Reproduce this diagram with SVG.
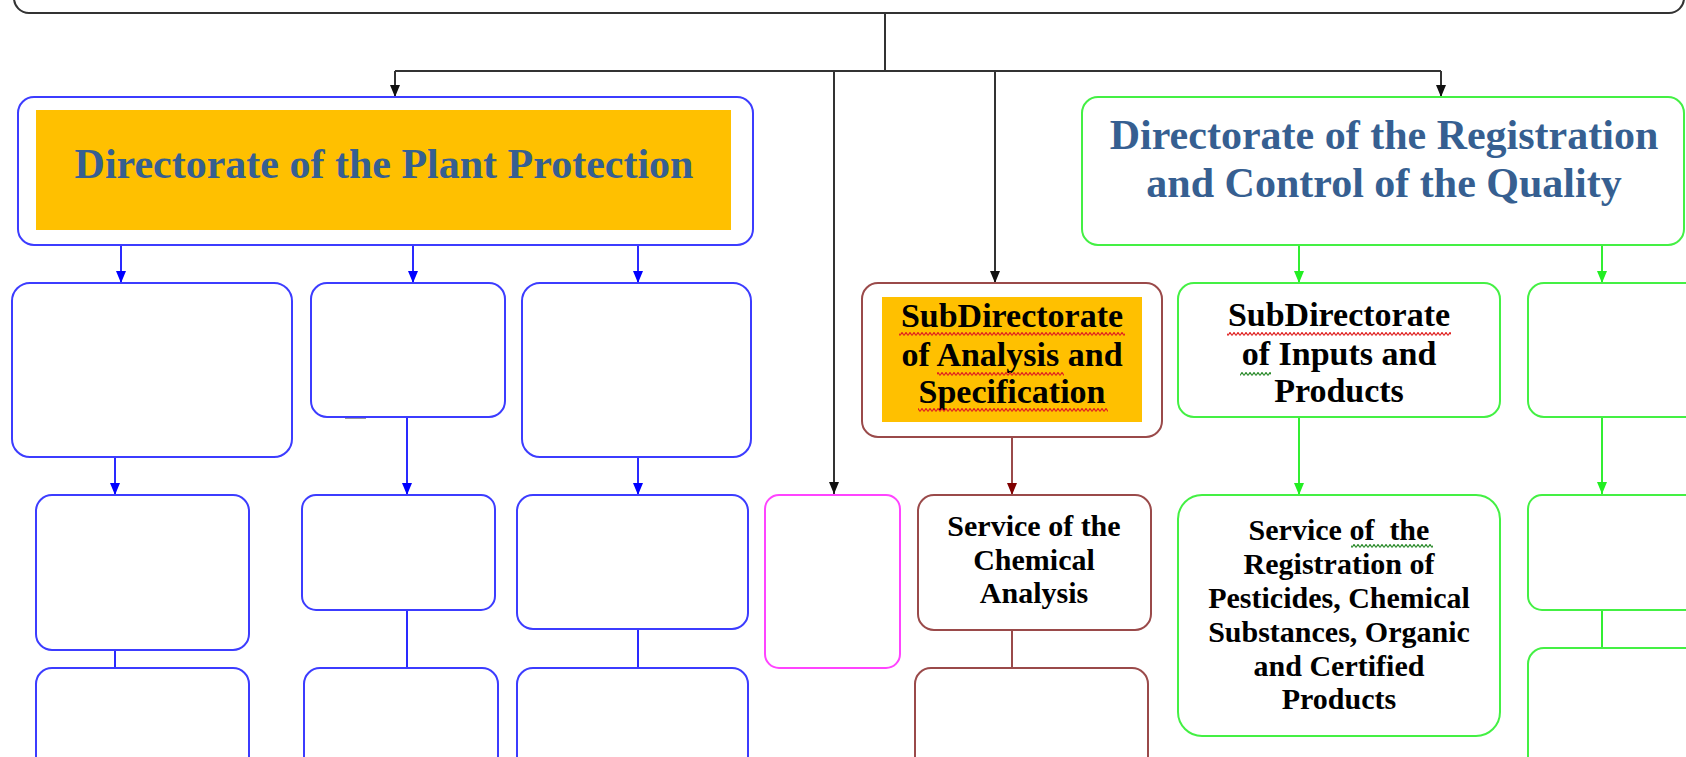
<svg xmlns="http://www.w3.org/2000/svg" width="1686" height="757" viewBox="0 0 1686 757">
<defs>
<style>
.bx{fill:#fff;stroke-width:2}
.blue{stroke:#3c3cff}
.green{stroke:#44f044}
.brown{stroke:#9a4a4a}
.pink{stroke:#ff44ff}
.blk{stroke:#333;stroke-width:2;fill:none}
.lb{stroke:#2a2aff;stroke-width:2;fill:none}
.lg{stroke:#33ee33;stroke-width:2;fill:none}
.lr{stroke:#9a4a4a;stroke-width:2;fill:none}
.title{font-family:"Liberation Serif","Times New Roman",serif;font-weight:bold;font-size:42px;fill:#365F91;text-anchor:middle}
.t34{font-family:"Liberation Serif","Times New Roman",serif;font-weight:bold;font-size:34px;fill:#000;text-anchor:middle}
.t30{font-family:"Liberation Serif","Times New Roman",serif;font-weight:bold;font-size:30px;fill:#000;text-anchor:middle}
</style>
<marker id="aK" viewBox="0 0 12 10" refX="12" refY="5" markerWidth="12" markerHeight="10" markerUnits="userSpaceOnUse" orient="auto"><path d="M0,0 L12,5 L0,10 z" fill="#111"/></marker>
<marker id="aB" viewBox="0 0 12 10" refX="12" refY="5" markerWidth="12" markerHeight="10" markerUnits="userSpaceOnUse" orient="auto"><path d="M0,0 L12,5 L0,10 z" fill="#0000ff"/></marker>
<marker id="aG" viewBox="0 0 12 10" refX="12" refY="5" markerWidth="12" markerHeight="10" markerUnits="userSpaceOnUse" orient="auto"><path d="M0,0 L12,5 L0,10 z" fill="#22ee22"/></marker>
<marker id="aR" viewBox="0 0 12 10" refX="12" refY="5" markerWidth="12" markerHeight="10" markerUnits="userSpaceOnUse" orient="auto"><path d="M0,0 L12,5 L0,10 z" fill="#800000"/></marker>
<pattern id="wR" width="4" height="4" patternUnits="userSpaceOnUse"><path d="M0,3.5 L2,0.5 L4,3.5" fill="none" stroke="#e02020" stroke-width="1.2"/></pattern>
<pattern id="wG" width="4" height="4" patternUnits="userSpaceOnUse"><path d="M0,3.5 L2,0.5 L4,3.5" fill="none" stroke="#2a8a2a" stroke-width="1.2"/></pattern>
</defs>
<rect width="1686" height="757" fill="#fff"/>

<g id="top-node"><rect class="bx" x="14" y="-30" width="1670" height="43" rx="15" stroke="#333"/></g>

<g id="connectors">
<path class="blk" d="M885,13 V71"/>
<path class="blk" d="M395,71 H1441"/>
<path class="blk" d="M395,71 V97" marker-end="url(#aK)"/>
<path class="blk" d="M1441,71 V97" marker-end="url(#aK)"/>
<path class="blk" d="M834,71 V494" marker-end="url(#aK)"/>
<path class="blk" d="M995,71 V283" marker-end="url(#aK)"/>
<path class="lb" d="M121,245 V283" marker-end="url(#aB)"/>
<path class="lb" d="M413,245 V283" marker-end="url(#aB)"/>
<path class="lb" d="M638,245 V283" marker-end="url(#aB)"/>
<path class="lb" d="M115,457 V495" marker-end="url(#aB)"/>
<path class="lb" d="M407,417 V495" marker-end="url(#aB)"/>
<path class="lb" d="M638,457 V495" marker-end="url(#aB)"/>
<path class="lb" d="M115,650 V668"/>
<path class="lb" d="M407,610 V668"/>
<path class="lb" d="M638,629 V668"/>
<path class="lr" d="M1012,437 V495" marker-end="url(#aR)"/>
<path class="lr" d="M1012,630 V668"/>
<path class="lg" d="M1299,245 V283" marker-end="url(#aG)"/>
<path class="lg" d="M1602,245 V283" marker-end="url(#aG)"/>
<path class="lg" d="M1299,417 V495" marker-end="url(#aG)"/>
<path class="lg" d="M1602,417 V494" marker-end="url(#aG)"/>
<path class="lg" d="M1602,610 V648"/>
<path d="M345,417 H366" stroke="#333" stroke-width="3"/>
</g>

<g id="dir-plant-protection">
<rect class="bx blue" x="18" y="97" width="735" height="148" rx="16"/>
<rect x="36" y="110" width="695" height="120" fill="#FFC000"/>
<text class="title" x="384" y="178">Directorate of the Plant Protection</text>
</g>

<g id="dir-registration">
<rect class="bx green" x="1082" y="97" width="602" height="148" rx="16"/>
<text class="title" x="1384" y="149">Directorate of the Registration</text>
<text class="title" x="1384" y="197">and Control of the Quality</text>
</g>

<g id="blue-a"><rect class="bx blue" x="12" y="283" width="280" height="174" rx="18"/></g>
<g id="blue-b"><rect class="bx blue" x="311" y="283" width="194" height="134" rx="16"/></g>
<g id="blue-c"><rect class="bx blue" x="522" y="283" width="229" height="174" rx="18"/></g>
<g id="blue-d"><rect class="bx blue" x="36" y="495" width="213" height="155" rx="16"/></g>
<g id="blue-e"><rect class="bx blue" x="302" y="495" width="193" height="115" rx="14"/></g>
<g id="blue-f"><rect class="bx blue" x="517" y="495" width="231" height="134" rx="16"/></g>
<g id="blue-g"><rect class="bx blue" x="36" y="668" width="213" height="120" rx="16"/></g>
<g id="blue-h"><rect class="bx blue" x="304" y="668" width="194" height="120" rx="16"/></g>
<g id="blue-i"><rect class="bx blue" x="517" y="668" width="231" height="120" rx="16"/></g>

<g id="pink-box"><rect class="bx pink" x="765" y="495" width="135" height="173" rx="14"/></g>

<g id="subdir-analysis">
<rect class="bx brown" x="862" y="283" width="300" height="154" rx="16"/>
<rect x="882" y="297" width="260" height="125" fill="#FFC000"/>
<text class="t34" x="1012" y="327">SubDirectorate</text>
<text class="t34" x="1012" y="366">of Analysis and</text>
<text class="t34" x="1012" y="403">Specification</text>
<rect x="899" y="332" width="226" height="4" fill="url(#wR)"/>
<rect x="937" y="372" width="127" height="4" fill="url(#wR)"/>
<rect x="918" y="408" width="190" height="4" fill="url(#wR)"/>
</g>

<g id="service-chemical">
<rect class="bx brown" x="918" y="495" width="233" height="135" rx="16"/>
<text class="t30" x="1034" y="536">Service of the</text>
<text class="t30" x="1034" y="570">Chemical</text>
<text class="t30" x="1034" y="603">Analysis</text>
</g>
<g id="brown-lower"><rect class="bx brown" x="915" y="668" width="233" height="120" rx="16"/></g>

<g id="subdir-inputs">
<rect class="bx green" x="1178" y="283" width="322" height="134" rx="16"/>
<text class="t34" x="1339" y="326">SubDirectorate</text>
<text class="t34" x="1339" y="365">of Inputs and</text>
<text class="t34" x="1339" y="402">Products</text>
<rect x="1227" y="332" width="224" height="4" fill="url(#wR)"/>
<rect x="1240" y="372" width="31" height="4" fill="url(#wG)"/>
</g>

<g id="service-registration">
<rect class="bx green" x="1178" y="495" width="322" height="241" rx="24"/>
<text class="t30" x="1339" y="540">Service of&#160; the</text>
<text class="t30" x="1339" y="574">Registration of</text>
<text class="t30" x="1339" y="608">Pesticides, Chemical</text>
<text class="t30" x="1339" y="642">Substances, Organic</text>
<text class="t30" x="1339" y="676">and Certified</text>
<text class="t30" x="1339" y="709">Products</text>
<rect x="1351" y="544" width="82" height="4" fill="url(#wG)"/>
</g>

<g id="green-r1"><rect class="bx green" x="1528" y="283" width="180" height="134" rx="16"/></g>
<g id="green-r2"><rect class="bx green" x="1528" y="495" width="180" height="115" rx="14"/></g>
<g id="green-r3"><rect class="bx green" x="1528" y="648" width="180" height="140" rx="16"/></g>
</svg>
